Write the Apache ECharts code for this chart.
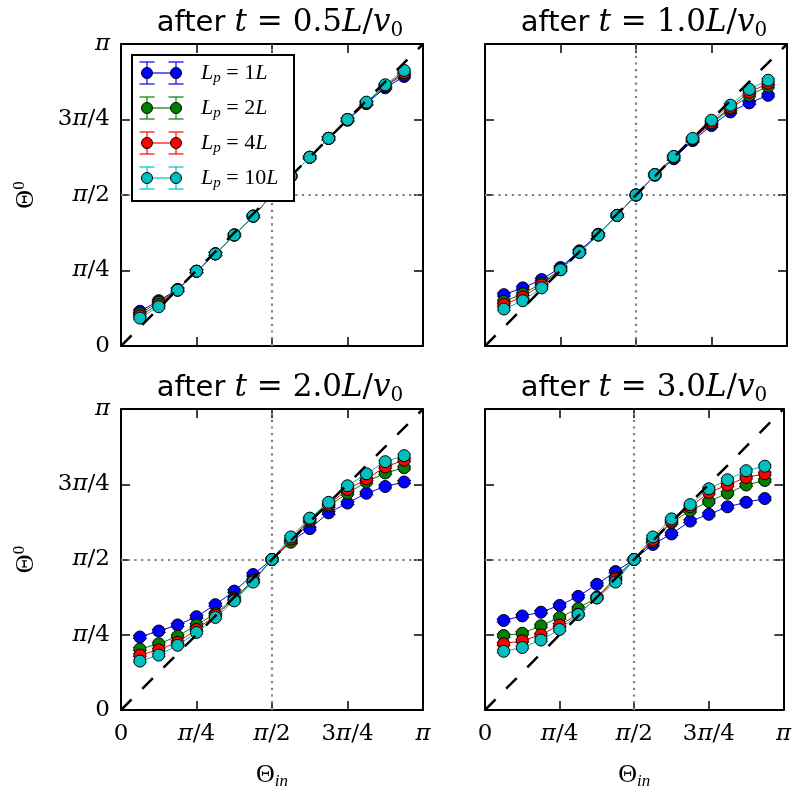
<!DOCTYPE html>
<html>
<head>
<meta charset="utf-8">
<script src="https://cdn.jsdelivr.net/npm/echarts@6/dist/echarts.min.js"></script>
<style>
  html, body { margin: 0; padding: 0; background: #fff; }
  #chart { width: 794px; height: 796px; }
</style>
</head>
<body>
<div id="chart"></div>
<script>
// Angles are stored in units of pi/4 (axis runs 0..4, i.e. 0..pi).
const THETA_IN = [0.25, 0.5, 0.75, 1, 1.25, 1.5, 1.75, 2, 2.25, 2.5, 2.75, 3, 3.25, 3.5, 3.75];
const TICK_VALUES = [0, 1, 2, 3, 4];
const TICK_LABELS = ['0', 'π/4', 'π/2', '3π/4', 'π'];
const PANEL_TIMES = ['0.5', '1.0', '2.0', '3.0'];
const LP_LABELS = ['1L', '2L', '4L', '10L'];
const LP_COLORS = ['#0000ff', '#007f00', '#ff0000', '#00bfbf'];
const Y_ERR = [0.02, 0.02, 0.02, 0.02, 0.02, 0.02, 0.02, 0.02, 0.02, 0.02, 0.02, 0.02, 0.02, 0.02, 0.02];

// t = 0.5 L/v0
const t05_lp1  = [0.46, 0.60, 0.75, 0.99, 1.22, 1.47, 1.72, 2.00, 2.25, 2.50, 2.75, 2.99, 3.21, 3.42, 3.57];
const t05_lp2  = [0.43, 0.58, 0.74, 0.99, 1.22, 1.47, 1.72, 2.00, 2.25, 2.50, 2.75, 3.00, 3.22, 3.44, 3.60];
const t05_lp4  = [0.40, 0.55, 0.74, 0.99, 1.22, 1.47, 1.72, 2.00, 2.25, 2.50, 2.75, 3.00, 3.22, 3.45, 3.62];
const t05_lp10 = [0.37, 0.52, 0.74, 0.99, 1.22, 1.47, 1.72, 2.00, 2.25, 2.50, 2.75, 3.00, 3.23, 3.46, 3.65];
// t = 1.0 L/v0
const t10_lp1  = [0.68, 0.77, 0.88, 1.04, 1.26, 1.48, 1.73, 2.00, 2.26, 2.48, 2.72, 2.92, 3.10, 3.22, 3.32];
const t10_lp2  = [0.59, 0.69, 0.83, 1.02, 1.25, 1.47, 1.73, 2.00, 2.27, 2.50, 2.74, 2.95, 3.14, 3.32, 3.44];
const t10_lp4  = [0.55, 0.65, 0.81, 1.01, 1.24, 1.47, 1.73, 2.00, 2.27, 2.51, 2.74, 2.96, 3.16, 3.36, 3.48];
const t10_lp10 = [0.49, 0.60, 0.77, 1.01, 1.24, 1.47, 1.73, 2.00, 2.27, 2.51, 2.75, 2.99, 3.19, 3.40, 3.52];
// t = 2.0 L/v0
const t20_lp1  = [0.97, 1.05, 1.13, 1.24, 1.40, 1.58, 1.80, 2.00, 2.24, 2.41, 2.62, 2.75, 2.88, 2.97, 3.03];
const t20_lp2  = [0.81, 0.88, 0.98, 1.13, 1.28, 1.49, 1.72, 2.00, 2.23, 2.51, 2.71, 2.88, 3.03, 3.15, 3.22];
const t20_lp4  = [0.73, 0.80, 0.90, 1.07, 1.26, 1.47, 1.72, 2.00, 2.27, 2.53, 2.73, 2.93, 3.07, 3.23, 3.32];
const t20_lp10 = [0.65, 0.73, 0.86, 1.03, 1.23, 1.45, 1.70, 2.00, 2.30, 2.55, 2.76, 2.98, 3.14, 3.30, 3.38];
// t = 3.0 L/v0
const t30_lp1  = [1.19, 1.25, 1.30, 1.39, 1.51, 1.67, 1.84, 2.00, 2.20, 2.34, 2.51, 2.60, 2.70, 2.76, 2.81];
const t30_lp2  = [0.99, 1.02, 1.12, 1.23, 1.35, 1.50, 1.76, 2.00, 2.24, 2.49, 2.65, 2.77, 2.88, 2.99, 3.05];
const t30_lp4  = [0.88, 0.92, 1.00, 1.13, 1.27, 1.49, 1.74, 2.00, 2.26, 2.51, 2.70, 2.89, 2.99, 3.09, 3.14];
const t30_lp10 = [0.78, 0.83, 0.93, 1.07, 1.27, 1.49, 1.70, 2.00, 2.30, 2.54, 2.73, 2.94, 3.06, 3.18, 3.24];

const PANEL_DATA = [
  [t05_lp1, t05_lp2, t05_lp4, t05_lp10],
  [t10_lp1, t10_lp2, t10_lp4, t10_lp10],
  [t20_lp1, t20_lp2, t20_lp4, t20_lp10],
  [t30_lp1, t30_lp2, t30_lp4, t30_lp10]
];

const SERIF = 'Liberation Serif';
const TICKFONT = 'DejaVu Serif';
const SANS = 'DejaVu Sans';

const GRIDS = [
  { left: 121, top: 44, width: 302, height: 302 },
  { left: 485, top: 44, width: 302, height: 302 },
  { left: 121, top: 409, width: 302, height: 301 },
  { left: 485, top: 409, width: 302, height: 301 }
];

const tickRich = {
  n: { fontFamily: TICKFONT, fontSize: 23, color: '#000' },
  p: { fontFamily: TICKFONT, fontSize: 23, fontStyle: 'italic', color: '#000' }
};
function tickFormatter(v) {
  const idx = TICK_VALUES.indexOf(Math.round(v));
  const s = TICK_LABELS[idx] || '';
  return s.split('').map(ch => ch === 'π' ? '{p|π}' : '{n|' + ch + '}').join('');
}

const frameLine = { show: true, onZero: false, lineStyle: { color: '#000', width: 2 } };
const innerTick = { show: true, inside: true, length: 9, lineStyle: { color: '#000', width: 1.5 } };

const xAxes = [], yAxes = [], titles = [], series = [];

GRIDS.forEach((g, i) => {
  const isBottom = i >= 2;
  const isLeft = i % 2 === 0;
  const base = { type: 'value', min: 0, max: 4, interval: 1, gridIndex: i,
    splitLine: { show: false }, axisLine: frameLine, axisTick: innerTick };

  xAxes.push(Object.assign({}, base, {
    position: 'bottom',
    axisLabel: { show: isBottom, formatter: tickFormatter, rich: tickRich, margin: 13 },
    name: isBottom ? '{a|Θ}{s|in}' : '',
    nameLocation: 'middle', nameGap: 50,
    nameTextStyle: { rich: {
      a: { fontFamily: SERIF, fontSize: 26, color: '#000', lineHeight: 30 },
      s: { fontFamily: SERIF, fontSize: 17, fontStyle: 'italic', color: '#000', verticalAlign: 'bottom', lineHeight: 17 }
    } }
  }));
  xAxes.push(Object.assign({}, base, { position: 'top', axisLabel: { show: false } }));

  yAxes.push(Object.assign({}, base, {
    position: 'left',
    axisLabel: { show: isLeft, formatter: tickFormatter, rich: tickRich, margin: 11 },
    name: isLeft ? '{a|Θ}{s|0}' : '',
    nameLocation: 'middle', nameGap: 80, nameRotate: 90,
    nameTextStyle: { rich: {
      a: { fontFamily: SERIF, fontSize: 26, color: '#000', lineHeight: 30 },
      s: { fontFamily: SERIF, fontSize: 17, color: '#000', verticalAlign: 'top', lineHeight: 17 }
    } }
  }));
  yAxes.push(Object.assign({}, base, { position: 'right', axisLabel: { show: false } }));

  titles.push({
    text: '{a|after }{m|t}{r| = ' + PANEL_TIMES[i] + '}{m|L}{r|/}{m|v}{s|0}',
    left: g.left + g.width / 2 + 3,
    top: isBottom ? 365 : 0,
    textAlign: 'center',
    textStyle: { fontWeight: 'normal', rich: {
      a: { fontFamily: SANS, fontSize: 29, fontWeight: 'normal', color: '#000', lineHeight: 36 },
      m: { fontFamily: TICKFONT, fontSize: 31, fontWeight: 'normal', fontStyle: 'italic', color: '#000', lineHeight: 36 },
      r: { fontFamily: TICKFONT, fontSize: 31, fontWeight: 'normal', color: '#000', lineHeight: 36 },
      s: { fontFamily: TICKFONT, fontSize: 20, fontWeight: 'normal', color: '#000', verticalAlign: 'bottom', lineHeight: 22 }
    } }
  });

  const xi = 2 * i, yi = 2 * i;

  // pi/2 guide lines
  series.push({
    type: 'line', xAxisIndex: xi, yAxisIndex: yi, data: [], z: 1, silent: true,
    markLine: {
      silent: true, symbol: 'none', label: { show: false }, z: 1,
      lineStyle: { color: '#7f7f7f', width: 2.2, type: [2.2, 4.5] },
      data: [{ xAxis: TICK_VALUES[2] }, { yAxis: TICK_VALUES[2] }]
    }
  });

  PANEL_DATA[i].forEach((ys, s) => {
    const color = LP_COLORS[s];
    // vertical error bars with caps
    series.push({
      type: 'custom', xAxisIndex: xi, yAxisIndex: yi, z: 3 + s * 2, silent: true,
      data: THETA_IN.map((x, k) => [x, ys[k], Y_ERR[k]]),
      renderItem: (params, api) => {
        const x = api.value(0), y = api.value(1), e = api.value(2);
        const lo = api.coord([x, y - e]), hi = api.coord([x, y + e]);
        const st = { stroke: color, lineWidth: 1 };
        return { type: 'group', children: [
          { type: 'line', shape: { x1: lo[0], y1: lo[1], x2: hi[0], y2: hi[1] }, style: st },
          { type: 'line', shape: { x1: lo[0] - 7, y1: lo[1], x2: lo[0] + 7, y2: lo[1] }, style: st },
          { type: 'line', shape: { x1: hi[0] - 7, y1: hi[1], x2: hi[0] + 7, y2: hi[1] }, style: st }
        ] };
      }
    });
    series.push({
      type: 'line', xAxisIndex: xi, yAxisIndex: yi, z: 4 + s * 2,
      data: THETA_IN.map((x, k) => [x, ys[k]]),
      symbol: 'circle', symbolSize: 12, showSymbol: true,
      lineStyle: { color, width: 1 },
      itemStyle: { color, borderColor: '#000', borderWidth: 1 }
    });
  });

  // identity line
  series.push({
    type: 'line', xAxisIndex: xi, yAxisIndex: yi, z: 20, silent: true,
    data: [[TICK_VALUES[0], TICK_VALUES[0]], [TICK_VALUES[4], TICK_VALUES[4]]],
    symbol: 'none', lineStyle: { color: '#000', width: 2.5, type: [15, 15] }
  });
});

// Legend box drawn in the first panel
const LZ = 100;
const legendChildren = [
  { type: 'rect', z: LZ, shape: { x: 0, y: 0, width: 162, height: 146 },
    style: { fill: '#fff', stroke: '#000', lineWidth: 2 } }
];
LP_LABELS.forEach((lab, i) => {
  const cy = 18 + 35 * i;
  const c = LP_COLORS[i];
  const st = { stroke: c, lineWidth: 1.2 };
  [15, 44].forEach(cx => {
    legendChildren.push({ type: 'line', z: LZ + 1, shape: { x1: cx, y1: cy - 11, x2: cx, y2: cy + 11 }, style: st });
    legendChildren.push({ type: 'line', z: LZ + 1, shape: { x1: cx - 7.5, y1: cy - 11, x2: cx + 7.5, y2: cy - 11 }, style: st });
    legendChildren.push({ type: 'line', z: LZ + 1, shape: { x1: cx - 7.5, y1: cy + 11, x2: cx + 7.5, y2: cy + 11 }, style: st });
  });
  legendChildren.push({ type: 'line', z: LZ + 1, shape: { x1: 15, y1: cy, x2: 44, y2: cy }, style: { stroke: c, lineWidth: 1.2 } });
  [15, 44].forEach(cx => {
    legendChildren.push({ type: 'circle', z: LZ + 2, shape: { cx, cy, r: 5.5 }, style: { fill: c, stroke: '#000', lineWidth: 1 } });
  });
  legendChildren.push({
    type: 'text', z: LZ + 2, x: 69, y: cy, style: {
      text: '{m|L}{s|p}{r| = ' + lab.replace('L', '') + '}{m|L}',
      verticalAlign: 'middle',
      rich: {
        m: { fontFamily: SERIF, fontSize: 22, fontStyle: 'italic', fill: '#000', lineHeight: 26 },
        r: { fontFamily: SERIF, fontSize: 22, fill: '#000', lineHeight: 26 },
        s: { fontFamily: SERIF, fontSize: 15, fontStyle: 'italic', fill: '#000', verticalAlign: 'bottom', lineHeight: 14 }
      }
    }
  });
});

const chart = echarts.init(document.getElementById('chart'), null, { renderer: 'canvas' });
chart.setOption({
  animation: false,
  backgroundColor: '#fff',
  title: titles,
  grid: GRIDS,
  xAxis: xAxes,
  yAxis: yAxes,
  series: series,
  graphic: [{ type: 'group', left: 131, top: 54, z: LZ, children: legendChildren }]
});
</script>
</body>
</html>
